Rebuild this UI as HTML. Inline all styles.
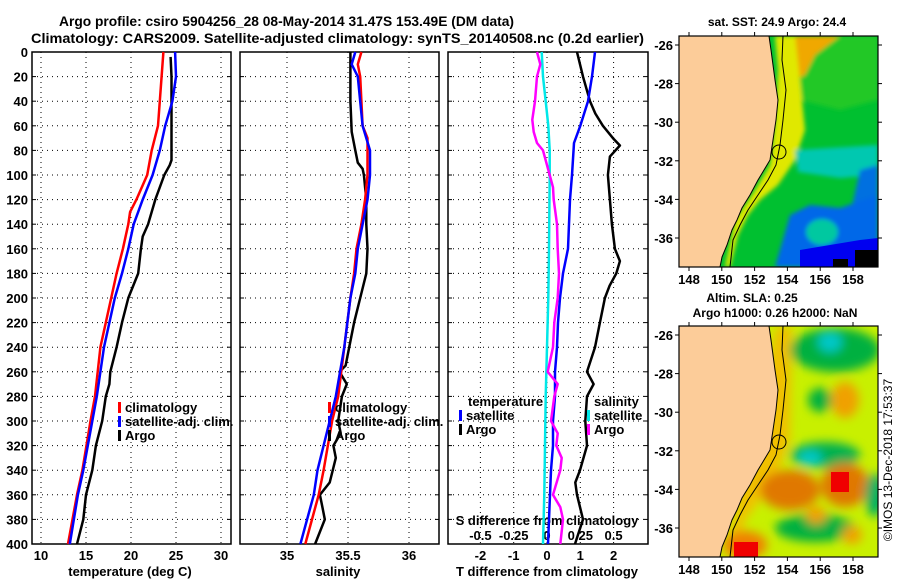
<!DOCTYPE html>
<html><head><meta charset="utf-8">
<style>
body{margin:0;background:#fff;}
svg{display:block;font-family:"Liberation Sans",sans-serif;font-weight:bold;}
</style></head>
<body>
<svg id="fig" width="900" height="580" viewBox="0 0 900 580" xmlns="http://www.w3.org/2000/svg">
<defs>
<filter id="blur" filterUnits="userSpaceOnUse" x="600" y="0" width="300" height="580"><feGaussianBlur stdDeviation="5"/></filter>
<filter id="blur2" filterUnits="userSpaceOnUse" x="600" y="0" width="300" height="580"><feGaussianBlur stdDeviation="2"/></filter>
<clipPath id="clipTop"><rect x="679" y="36" width="199" height="231"/></clipPath>
<clipPath id="clipBot"><rect x="679" y="326" width="199" height="231"/></clipPath>
</defs>
<text x="59" y="26" font-size="14" textLength="455" lengthAdjust="spacingAndGlyphs">Argo profile: csiro 5904256_28 08-May-2014 31.47S 153.49E (DM data)</text>
<text x="31" y="43" font-size="14" textLength="613" lengthAdjust="spacingAndGlyphs">Climatology: CARS2009. Satellite-adjusted climatology: synTS_20140508.nc (0.2d earlier)</text>
<g id="plots"></g>
<g id="maps"></g>
<text transform="translate(892,460) rotate(-90)" font-size="12" font-weight="normal" text-anchor="middle">©IMOS 13-Dec-2018 17:53:37</text>
</svg>
<script>
const NS="http://www.w3.org/2000/svg";
// ---- data ----
const depthsTemp=[0,20,40,60,80,100,120,130,140,160,180,200,240,280,300,340,360,400];
const tempClim=[23.6,23.4,23.2,23.0,22.3,21.8,20.6,19.9,19.7,19.1,18.4,17.8,16.6,16.0,15.5,14.6,14.0,13.0];
const depthsSat=[0,20,40,60,80,100,120,140,160,180,200,240,280,300,340,360,400];
const tempSat=[24.9,25.0,24.6,23.8,23.2,22.4,21.3,20.3,19.7,19.0,18.2,17.0,16.2,15.7,14.7,14.1,13.2];
const depthsArgoT=[4,20,40,60,88,92,100,120,140,150,160,180,200,220,240,260,270,280,300,320,340,360,380,400];
const tempArgo=[24.4,24.5,24.5,24.5,24.5,24.3,23.7,22.7,21.9,21.3,21.1,20.8,19.7,19.0,18.4,17.7,17.6,17.2,16.8,16.1,15.7,15.0,14.7,14.0];
const depthsSal=[0,10,20,40,60,70,80,100,120,140,160,180,200,240,280,300,340,360,400];
const salClim=[35.61,35.58,35.60,35.61,35.62,35.66,35.66,35.66,35.64,35.61,35.57,35.55,35.52,35.47,35.42,35.37,35.30,35.26,35.15];
const salSat=[35.56,35.53,35.58,35.60,35.62,35.65,35.68,35.68,35.66,35.62,35.58,35.56,35.52,35.47,35.40,35.35,35.25,35.22,35.11];
const depthsArgoS=[0,40,65,80,90,95,100,120,140,160,180,200,220,240,255,260,270,280,300,310,320,330,350,360,370,380,400];
const salArgo=[35.52,35.52,35.53,35.56,35.58,35.62,35.63,35.65,35.65,35.66,35.65,35.60,35.55,35.51,35.48,35.43,35.49,35.45,35.42,35.44,35.38,35.40,35.35,35.27,35.29,35.31,35.23];
const depthsDiff=[0,20,40,60,74,100,120,140,160,180,200,220,240,260,280,300,320,340,360,380,400];
const tDiffSat=[1.44,1.35,1.23,1.0,0.81,0.75,0.69,0.66,0.63,0.48,0.39,0.33,0.3,0.24,0.24,0.18,0.18,0.12,0.09,0.06,0.03];
const depthsDiffArgoT=[0,20,40,50,60,70,76,85,100,120,140,160,170,180,190,200,220,240,260,270,280,300,320,340,350,360,380,400];
const tDiffArgo=[0.9,1.08,1.29,1.45,1.68,1.98,2.19,1.89,1.83,1.89,1.95,2.04,2.19,2.08,1.88,1.74,1.59,1.44,1.2,1.4,1.2,1.15,1.2,0.99,0.85,0.9,1.08,0.84];
const depthsDiffS=[0,20,40,60,80,100,160,200,240,280,320,360,400];
const sDiffSat=[-0.04,-0.03,-0.01,0.01,0.02,0.02,0.015,0.01,0.0,-0.01,-0.015,-0.02,-0.03];
const depthsDiffArgoS=[0,10,20,40,55,65,74,80,100,110,120,140,160,180,200,220,240,260,270,280,300,310,320,330,340,360,370,380,400];
const sDiffArgo=[-0.075,-0.05,-0.075,-0.09,-0.11,-0.1,-0.075,-0.03,0.02,0.045,0.05,0.075,0.08,0.09,0.08,0.055,0.045,0.005,0.08,0.055,0.03,0.08,0.07,0.11,0.1,0.045,0.1,0.12,0.1];
const depthTicks=[0,20,40,60,80,100,120,140,160,180,200,220,240,260,280,300,320,340,360,380,400];
const tempTicks=[10,15,20,25,30];
const salTicks=[35,35.5,36];
const tDiffTicks=[-2,-1,0,1,2];
const sDiffTicks=[-0.5,-0.25,0,0.25,0.5];
const sDiffTickLabels=["-0.5","-0.25","0","0.25","0.5"];
const mapLatTicks=[-26,-28,-30,-32,-34,-36];
const mapLonTicks=[148,150,152,154,156,158];

// ---- axes ----
const Y0=52,Y1=544;
const yD=d=>Y0+d*(Y1-Y0)/400;
const xT=v=>41+(v-10)*9;
const xS=v=>287+(v-35)*122;
const xTd=v=>547+v*33.3;
const xSd=v=>547+v*133.2;

const plots=document.getElementById('plots');
function el(tag,attrs,parent){const e=document.createElementNS(NS,tag);for(const k in attrs)e.setAttribute(k,attrs[k]);(parent||plots).appendChild(e);return e;}

const panels=[{x0:32,x1:231,name:'temperature-panel'},{x0:240,x1:439,name:'salinity-panel'},{x0:448,x1:648,name:'t-difference-panel'}];
const gridX=[tempTicks.map(xT),salTicks.map(xS),tDiffTicks.map(xTd)];
panels.forEach((p,i)=>{
  const g=el('g',{});
  
  
  depthTicks.forEach(d=>{
    if(d===0||d===400)return;
    const l=el('line',{x1:p.x0,x2:p.x1,y1:yD(d),y2:yD(d),stroke:'#000','stroke-width':1,'stroke-dasharray':'1,4'},g);
    
    el('line',{x1:p.x0,x2:p.x0+4,y1:yD(d),y2:yD(d),stroke:'#000'},g);
    el('line',{x1:p.x1-4,x2:p.x1,y1:yD(d),y2:yD(d),stroke:'#000'},g);
  });
  gridX[i].forEach(x=>{
    const l=el('line',{x1:x,x2:x,y1:Y0,y2:Y1,stroke:'#000','stroke-width':1,'stroke-dasharray':'1,4'},g);
    
  });
  const r=el('rect',{x:p.x0,y:Y0,width:p.x1-p.x0,height:Y1-Y0,fill:'none',stroke:'#000','stroke-width':1.5},g);
  
});
depthTicks.forEach(d=>{
  const t=el('text',{x:28,y:yD(d)+5,'font-size':13,'text-anchor':'end'});
  
  t.textContent=d;
});
function xlabels(ticks,fx,y,labels,name){
  ticks.forEach((v,i)=>{const t=el('text',{x:fx(v),y:y,'font-size':13,'text-anchor':'middle'});
    
    t.textContent=labels?labels[i]:v;});
}
xlabels(tempTicks,xT,560,null,'temp-tick-label');
xlabels(salTicks,xS,560,null,'salinity-tick-label');
xlabels(tDiffTicks,xTd,560,null,'tdiff-tick-label');
xlabels(sDiffTicks,xSd,540,sDiffTickLabels,'sdiff-tick-label');
function label(txt,x,y,name,anchor){const t=el('text',{x:x,y:y,'font-size':13,'text-anchor':anchor||'middle'});
  t.textContent=txt;return t;}
label('temperature (deg C)',130,576,'x-axis-title-temperature');
label('salinity',338,576,'x-axis-title-salinity');
label('T difference from climatology',547,576,'x-axis-title-tdiff');
label('S difference from climatology',547,525,'s-diff-axis-title');

function series(ds,vs,fx,color,name){
  const pts=ds.map((d,i)=>fx(vs[i]).toFixed(1)+','+yD(d).toFixed(1)).join(' ');
  const pl=el('polyline',{points:pts,fill:'none',stroke:color,'stroke-width':2.5,'stroke-linejoin':'round'});
  
  
}
series(depthsArgoT,tempArgo,xT,'#000','temp-argo-line');
series(depthsTemp,tempClim,xT,'#f00','temp-climatology-line');
series(depthsSat,tempSat,xT,'#00f','temp-satellite-line');
series(depthsArgoS,salArgo,xS,'#000','salinity-argo-line');
series(depthsSal,salClim,xS,'#f00','salinity-climatology-line');
series(depthsSal,salSat,xS,'#00f','salinity-satellite-line');
series(depthsDiffArgoT,tDiffArgo,xTd,'#000','tdiff-argo-line');
series(depthsDiff,tDiffSat,xTd,'#00f','tdiff-satellite-line');
series(depthsDiffS,sDiffSat,xSd,'#00e8e8','sdiff-satellite-line');
series(depthsDiffArgoS,sDiffArgo,xSd,'#f0f','sdiff-argo-line');

function legend(x,y,color,txt,name){
  const g=el('g',{});
  if(color)el('rect',{x:x,y:y-10,width:3,height:11,fill:color},g);
  const t=el('text',{x:x+7,y:y,'font-size':13},g);t.textContent=txt;
}
legend(118,412,'#f00','climatology','legend-climatology');
legend(118,426,'#00f','satellite-adj. clim.','legend-satellite');
legend(118,440,'#000','Argo','legend-argo');
legend(328,412,'#f00','climatology','legend-climatology-sal');
legend(328,426,'#00f','satellite-adj. clim.','legend-satellite-sal');
legend(328,440,'#000','Argo','legend-argo-sal');
legend(461,406,null,'temperature','legend-temperature-heading');
legend(459,420,'#00f','satellite','legend-tdiff-satellite');
legend(459,434,'#000','Argo','legend-tdiff-argo');
legend(587,406,null,'salinity','legend-salinity-heading');
legend(587,420,'#00e8e8','satellite','legend-sdiff-satellite');
legend(587,434,'#f0f','Argo','legend-sdiff-argo');

// ---- maps ----
const maps=document.getElementById('maps');
const lonX=lo=>689+(lo-148)*16.4;
const coast=[[769,36],[771,50],[775,80],[778,100],[776,120],[773,140],[770,160],[764,170],[758,180],[750,195],[742,208],[737,220],[732,230],[727,245],[722,257],[720,267]];
const isobath=[[783,36],[782,60],[786,90],[783,120],[780,145],[776,165],[768,180],[758,195],[748,210],[740,225],[733,240],[730,267]];
function P(arr,off){return arr.map(p=>p[0]+','+(p[1]+off)).join(' ');}
function m(tag,attrs,parent){const e=document.createElementNS(NS,tag);for(const k in attrs)e.setAttribute(k,attrs[k]);parent.appendChild(e);return e;}
function drawMap(off,name,title,isSST){
  const g=m('g',{},maps);
  const c=m('g',{'clip-path':isSST?'url(#clipTop)':'url(#clipBot)'},g);
  if(isSST){
    m('rect',{x:679,y:36,width:199,height:231,fill:'#00c030'},c);
    const b=m('g',{filter:'url(#blur2)'},c);
    m('polygon',{points:'800,36 878,36 878,100 840,110 800,100',fill:'#20c828'},b);
    m('polygon',{points:'785,36 840,36 815,55 805,75 795,80',fill:'#f0a800'},b);
    m('polygon',{points:'775,36 795,36 800,80 805,130 795,160 778,185 760,200 748,215 738,235 730,267 725,267 735,220 755,190 770,165 775,120 778,70',fill:'#e0e800'},b);
    m('polygon',{points:'795,150 878,145 878,175 840,178 798,172',fill:'#00c8b0'},b);
    m('polygon',{points:'860,170 878,165 878,215 850,215',fill:'#0070e0'},b);
    m('polygon',{points:'790,215 810,205 840,208 878,195 878,267 775,267',fill:'#0068e8'},b);
    m('ellipse',{cx:822,cy:232,rx:16,ry:13,fill:'#00c8a0'},b);
    m('polygon',{points:'800,250 830,245 860,240 878,238 878,267 800,267',fill:'#0000f0'},c);
    m('rect',{x:855,y:250,width:23,height:17,fill:'#000'},c);
    m('rect',{x:833,y:259,width:15,height:8,fill:'#000'},c);
  } else {
    m('rect',{x:679,y:326,width:199,height:231,fill:'#c8f000'},c);
    const b=m('g',{filter:'url(#blur)'},c);
    m('polygon',{points:P([[776,36],[792,36],[790,150],[775,190],[745,230],[735,267],[725,267],[740,200]],off),fill:'#f0c000'},b);
    m('ellipse',{cx:835,cy:60+off,rx:45,ry:22,fill:'#00b040'},b);
    m('ellipse',{cx:830,cy:52+off,rx:12,ry:10,fill:'#00c8c8'},b);
    m('ellipse',{cx:820,cy:110+off,rx:12,ry:12,fill:'#00b040'},b);
    m('ellipse',{cx:845,cy:110+off,rx:14,ry:18,fill:'#f0a000'},b);
    m('ellipse',{cx:825,cy:165+off,rx:35,ry:13,fill:'#00b050'},b);
    m('ellipse',{cx:810,cy:168+off,rx:12,ry:8,fill:'#00c8c8'},b);
    m('ellipse',{cx:790,cy:200+off,rx:30,ry:20,fill:'#e07800'},b);
    m('ellipse',{cx:845,cy:195+off,rx:24,ry:22,fill:'#e07800'},b);
    m('ellipse',{cx:875,cy:205+off,rx:10,ry:22,fill:'#00b060'},b);
    m('ellipse',{cx:815,cy:238+off,rx:40,ry:14,fill:'#00b040'},b);
    m('ellipse',{cx:816,cy:225+off,rx:10,ry:9,fill:'#f0a000'},b);
    m('ellipse',{cx:852,cy:245+off,rx:10,ry:9,fill:'#f0a000'},b);
    m('ellipse',{cx:745,cy:255+off,rx:22,ry:14,fill:'#f08000'},b);
    m('rect',{x:831,y:182+off,width:18,height:20,fill:'#f00000'},c);
    m('rect',{x:734,y:252+off,width:24,height:15,fill:'#f00000'},c);
  }
  m('polygon',{points:P([[679,36],...coast,[679,267]],off),fill:'#fccc99',stroke:'#000','stroke-width':1},c);
  m('polyline',{points:P(isobath,off),fill:'none',stroke:'#000','stroke-width':1},c);
  const circ=m('circle',{cx:779,cy:152+off,r:7,fill:'none',stroke:'#000','stroke-width':1},g);
  
  m('rect',{x:679,y:36+off,width:199,height:231,fill:'none',stroke:'#000','stroke-width':1.2},g);
  mapLatTicks.forEach(la=>{
    const y=45+(-26-la)*19.3+off;
    m('line',{x1:675,x2:679,y1:y,y2:y,stroke:'#000'},g);
    m('line',{x1:878,x2:882,y1:y,y2:y,stroke:'#000'},g);
    const t=m('text',{x:673,y:y+5,'font-size':13,'text-anchor':'end'},g);
    t.textContent=la;
  });
  mapLonTicks.forEach(lo=>{
    const x=lonX(lo);
    m('line',{x1:x,x2:x,y1:32+off,y2:36+off,stroke:'#000'},g);
    m('line',{x1:x,x2:x,y1:267+off,y2:271+off,stroke:'#000'},g);
    const t=m('text',{x:x,y:284+off,'font-size':13,'text-anchor':'middle'},g);
    t.textContent=lo;
  });
  title.forEach((tt,i)=>{
    const t=m('text',{x:tt[1],y:tt[2],'font-size':12,'text-anchor':'middle'},g);
    t.textContent=tt[0];
  });
}
drawMap(0,'sst-map',[['sat. SST: 24.9 Argo: 24.4',777,26]],true);
drawMap(290,'sla-map',[['Altim. SLA: 0.25',752,302],['Argo h1000: 0.26 h2000: NaN',775,317]],false);
</script>
</body></html>
